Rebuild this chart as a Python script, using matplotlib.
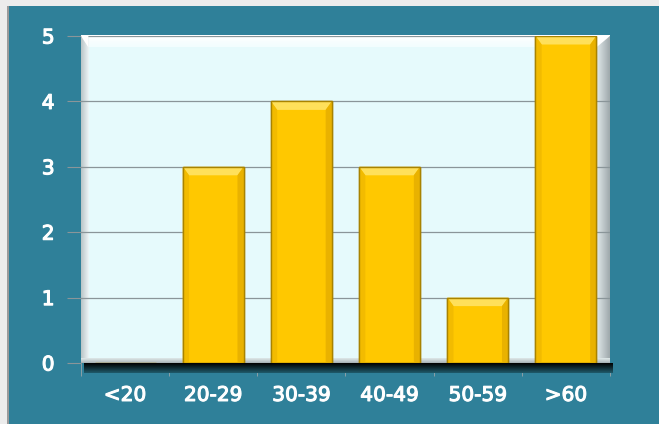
import numpy as np
import matplotlib.pyplot as plt
import matplotlib.patheffects as pe
from matplotlib.patches import Rectangle, Polygon
from matplotlib.colors import LinearSegmentedColormap

# Répartition par tranche d'âge
categories = ['<20', '20-29', '30-39', '40-49', '50-59', '>60']
counts = [0, 3, 4, 3, 1, 5]
y_ticks = [0, 1, 2, 3, 4, 5]

teal = '#2f8099'
gold = '#ffc800'

fig = plt.figure(figsize=(6.59, 4.24), dpi=100, facecolor='#ececec')

# fond bleu-vert avec marge grise en haut et à gauche
fig.patches.append(Rectangle((8 / 659, 0), 1, 1 - 6 / 424, transform=fig.transFigure,
                             facecolor=teal, edgecolor='none', zorder=-10))
fig.patches.append(Rectangle((7 / 659, 0), 1.5 / 659, 1 - 6 / 424, transform=fig.transFigure,
                             facecolor='#9a9a9a', edgecolor='none', zorder=-10))

ax = fig.add_axes([81 / 659, 1 - 363 / 424, 529 / 659, 327 / 424])
ax.set_facecolor('#e6fafc')
ax.set_xlim(-0.5, len(categories) - 0.5)
ax.set_ylim(0, 5)


def gradient(ax, extent, c0, c1, vertical=True, z=0.5):
    cmap = LinearSegmentedColormap.from_list('g', [c0, c1])
    g = np.linspace(0, 1, 64)
    img = g[:, None] if vertical else g[None, :]
    ax.imshow(img, cmap=cmap, extent=extent, transform=ax.transAxes, aspect='auto',
              origin='lower', zorder=z, clip_on=False, interpolation='bilinear')


# ombre noire dégradée sous la zone de tracé
gradient(ax, (0.005, 1.004, -0.03, 0.0), '#1f5a6a', '#000000', z=1)
# biseaux de la zone de tracé
gradient(ax, (0.0, 1.0, 0.965, 1.0), '#f2fdfe', '#ffffff', z=0.5)
gradient(ax, (0.0, 0.014, 0.0, 1.0), '#b9c4c7', '#eef6f7', vertical=False, z=0.5)
gradient(ax, (0.974, 1.0, 0.0, 1.0), '#e4ecee', '#9ea8ab', vertical=False, z=0.5)
gradient(ax, (0.0, 1.0, 0.0, 0.015), '#aab4b7', '#dfe9ea', z=0.5)
ax.add_patch(Polygon([[0, 1], [0.014, 0.965], [0.014, 1]], closed=True,
                     transform=ax.transAxes, facecolor='white', edgecolor='none', zorder=0.6))
ax.add_patch(Polygon([[1, 1], [0.974, 0.965], [0.974, 1]], closed=True,
                     transform=ax.transAxes, facecolor='white', edgecolor='none', zorder=0.6))

ax.grid(axis='y', color='#8a9599', linewidth=0.9, zorder=0.8)
ax.set_axisbelow(True)

x = np.arange(len(categories))
width = 0.69
bars = ax.bar(x, counts, width=width, color=gold, edgecolor='#a98300', linewidth=1.0, zorder=2)

# reflet en haut de chaque barre
bev_x, bev_y = 0.07, 0.13
for xi, h in zip(x, counts):
    if h <= 0:
        continue
    l, r = xi - width / 2, xi + width / 2
    ax.add_patch(Polygon([[l, h], [r, h], [r - bev_x, h - bev_y], [l + bev_x, h - bev_y]],
                         closed=True, facecolor='#ffe05a', edgecolor='none', zorder=3))
    ax.add_patch(Polygon([[l, h], [l + bev_x, h - bev_y], [l + bev_x, 0.02], [l, 0]],
                         closed=True, facecolor='#f2bb00', edgecolor='none', zorder=3))
    ax.add_patch(Polygon([[r, h], [r - bev_x, h - bev_y], [r - bev_x, 0.02], [r, 0]],
                         closed=True, facecolor='#e9b200', edgecolor='none', zorder=3))
    ax.add_patch(Rectangle((l, 0), width, h, facecolor='none', edgecolor='#a98300',
                           linewidth=1.0, zorder=4))

for s in ax.spines.values():
    s.set_visible(False)

ax.set_yticks(y_ticks)
ax.set_xticks(x)
ax.set_xticklabels(categories)
ax.set_xticks(np.arange(len(categories) + 1) - 0.5, minor=True)
ax.tick_params(axis='y', length=10, color='#8a9599', pad=9, labelcolor='white',
               labelsize=14.5)
ax.tick_params(axis='x', which='major', length=0, pad=16.5, labelcolor='white', labelsize=14.5)
ax.tick_params(axis='x', which='minor', length=9, color='#9aa5a8', direction='out')
for lab in ax.get_xticklabels() + ax.get_yticklabels():
    lab.set_path_effects([pe.withStroke(linewidth=0.8, foreground='white')])

fig.savefig('out.png', dpi=100, facecolor=fig.get_facecolor())
